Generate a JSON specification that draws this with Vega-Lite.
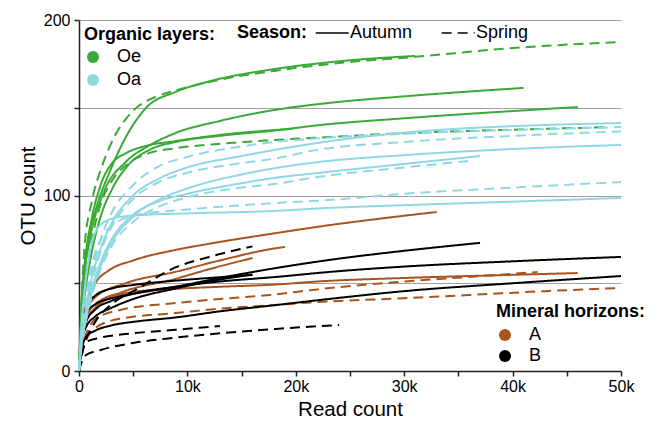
{
"$schema": "https://vega.github.io/schema/vega-lite/v6.json",
"width": 542, "height": 351,
"autosize": {"type": "none"},
"padding": {"left": 79, "top": 20, "right": 36, "bottom": 50},
"config": {"font": "Liberation Sans", "view": {"stroke": null},
  "legend": {"padding": 0, "labelFontSize": 18, "titleFontSize": 18, "titleFontWeight": "bold", "titleColor": "black", "labelColor": "black"}},
"data": {"values": [
{"c":"G1","l":"Oe","s":"Autumn","x":0,"y":0},{"c":"G1","l":"Oe","s":"Autumn","x":250,"y":40},{"c":"G1","l":"Oe","s":"Autumn","x":650,"y":68},{"c":"G1","l":"Oe","s":"Autumn","x":1600,"y":93},{"c":"G1","l":"Oe","s":"Autumn","x":2800,"y":113},{"c":"G1","l":"Oe","s":"Autumn","x":4300,"y":133},{"c":"G1","l":"Oe","s":"Autumn","x":6200,"y":150},{"c":"G1","l":"Oe","s":"Autumn","x":8900,"y":159},{"c":"G1","l":"Oe","s":"Autumn","x":12000,"y":165},{"c":"G1","l":"Oe","s":"Autumn","x":18000,"y":172},{"c":"G1","l":"Oe","s":"Autumn","x":24000,"y":176.5},{"c":"G1","l":"Oe","s":"Autumn","x":31000,"y":179.5},
{"c":"G1d","l":"Oe","s":"Spring","x":0,"y":0},{"c":"G1d","l":"Oe","s":"Spring","x":250,"y":42},{"c":"G1d","l":"Oe","s":"Spring","x":500,"y":70},{"c":"G1d","l":"Oe","s":"Spring","x":1200,"y":97},{"c":"G1d","l":"Oe","s":"Spring","x":2200,"y":118},{"c":"G1d","l":"Oe","s":"Spring","x":3400,"y":135},{"c":"G1d","l":"Oe","s":"Spring","x":4500,"y":145},{"c":"G1d","l":"Oe","s":"Spring","x":5500,"y":151},{"c":"G1d","l":"Oe","s":"Spring","x":7000,"y":156},{"c":"G1d","l":"Oe","s":"Spring","x":9000,"y":160},{"c":"G1d","l":"Oe","s":"Spring","x":13000,"y":166},{"c":"G1d","l":"Oe","s":"Spring","x":18000,"y":171},{"c":"G1d","l":"Oe","s":"Spring","x":24000,"y":175.5},{"c":"G1d","l":"Oe","s":"Spring","x":31000,"y":179},{"c":"G1d","l":"Oe","s":"Spring","x":40000,"y":184},{"c":"G1d","l":"Oe","s":"Spring","x":50000,"y":187.5},
{"c":"G2","l":"Oe","s":"Autumn","x":0,"y":0},{"c":"G2","l":"Oe","s":"Autumn","x":250,"y":35},{"c":"G2","l":"Oe","s":"Autumn","x":500,"y":55},{"c":"G2","l":"Oe","s":"Autumn","x":1000,"y":75},{"c":"G2","l":"Oe","s":"Autumn","x":2300,"y":102},{"c":"G2","l":"Oe","s":"Autumn","x":4300,"y":119},{"c":"G2","l":"Oe","s":"Autumn","x":6500,"y":128.5},{"c":"G2","l":"Oe","s":"Autumn","x":8900,"y":135.6},{"c":"G2","l":"Oe","s":"Autumn","x":13000,"y":142.5},{"c":"G2","l":"Oe","s":"Autumn","x":18000,"y":148.7},{"c":"G2","l":"Oe","s":"Autumn","x":23000,"y":152.7},{"c":"G2","l":"Oe","s":"Autumn","x":30000,"y":156.5},{"c":"G2","l":"Oe","s":"Autumn","x":41000,"y":161.3},
{"c":"G3","l":"Oe","s":"Autumn","x":0,"y":0},{"c":"G3","l":"Oe","s":"Autumn","x":250,"y":28},{"c":"G3","l":"Oe","s":"Autumn","x":500,"y":42},{"c":"G3","l":"Oe","s":"Autumn","x":1000,"y":62},{"c":"G3","l":"Oe","s":"Autumn","x":2000,"y":88},{"c":"G3","l":"Oe","s":"Autumn","x":3000,"y":103},{"c":"G3","l":"Oe","s":"Autumn","x":4500,"y":117},{"c":"G3","l":"Oe","s":"Autumn","x":6500,"y":126},{"c":"G3","l":"Oe","s":"Autumn","x":8900,"y":130.5},{"c":"G3","l":"Oe","s":"Autumn","x":13000,"y":134},{"c":"G3","l":"Oe","s":"Autumn","x":18000,"y":137},{"c":"G3","l":"Oe","s":"Autumn","x":22000,"y":140},{"c":"G3","l":"Oe","s":"Autumn","x":30000,"y":144},{"c":"G3","l":"Oe","s":"Autumn","x":41000,"y":148.5},{"c":"G3","l":"Oe","s":"Autumn","x":46000,"y":150.4},
{"c":"G5","l":"Oe","s":"Autumn","x":0,"y":0},{"c":"G5","l":"Oe","s":"Autumn","x":250,"y":35},{"c":"G5","l":"Oe","s":"Autumn","x":500,"y":55},{"c":"G5","l":"Oe","s":"Autumn","x":1000,"y":80},{"c":"G5","l":"Oe","s":"Autumn","x":2000,"y":106},{"c":"G5","l":"Oe","s":"Autumn","x":3000,"y":118},{"c":"G5","l":"Oe","s":"Autumn","x":4300,"y":124},{"c":"G5","l":"Oe","s":"Autumn","x":6000,"y":128},{"c":"G5","l":"Oe","s":"Autumn","x":8900,"y":131},{"c":"G5","l":"Oe","s":"Autumn","x":13000,"y":134.5},{"c":"G5","l":"Oe","s":"Autumn","x":19700,"y":138},
{"c":"G4","l":"Oe","s":"Spring","x":0,"y":0},{"c":"G4","l":"Oe","s":"Spring","x":250,"y":30},{"c":"G4","l":"Oe","s":"Spring","x":500,"y":45},{"c":"G4","l":"Oe","s":"Spring","x":1000,"y":68},{"c":"G4","l":"Oe","s":"Spring","x":2000,"y":95},{"c":"G4","l":"Oe","s":"Spring","x":3000,"y":108},{"c":"G4","l":"Oe","s":"Spring","x":4500,"y":118},{"c":"G4","l":"Oe","s":"Spring","x":6400,"y":124},{"c":"G4","l":"Oe","s":"Spring","x":9000,"y":127},{"c":"G4","l":"Oe","s":"Spring","x":13000,"y":129.5},{"c":"G4","l":"Oe","s":"Spring","x":18000,"y":131.6},{"c":"G4","l":"Oe","s":"Spring","x":23000,"y":133.3},{"c":"G4","l":"Oe","s":"Spring","x":30000,"y":135.5},{"c":"G4","l":"Oe","s":"Spring","x":40000,"y":137.5},{"c":"G4","l":"Oe","s":"Spring","x":49000,"y":139},
{"c":"B1","l":"Oa","s":"Autumn","x":0,"y":0},{"c":"B1","l":"Oa","s":"Autumn","x":250,"y":20},{"c":"B1","l":"Oa","s":"Autumn","x":500,"y":30},{"c":"B1","l":"Oa","s":"Autumn","x":1000,"y":48},{"c":"B1","l":"Oa","s":"Autumn","x":2000,"y":70},{"c":"B1","l":"Oa","s":"Autumn","x":3000,"y":84},{"c":"B1","l":"Oa","s":"Autumn","x":5000,"y":100},{"c":"B1","l":"Oa","s":"Autumn","x":7500,"y":110},{"c":"B1","l":"Oa","s":"Autumn","x":10000,"y":116},{"c":"B1","l":"Oa","s":"Autumn","x":15000,"y":122.5},{"c":"B1","l":"Oa","s":"Autumn","x":20000,"y":128},{"c":"B1","l":"Oa","s":"Autumn","x":25000,"y":132.5},{"c":"B1","l":"Oa","s":"Autumn","x":33000,"y":137.3},{"c":"B1","l":"Oa","s":"Autumn","x":40000,"y":139.5},{"c":"B1","l":"Oa","s":"Autumn","x":50000,"y":141.3},
{"c":"B2","l":"Oa","s":"Spring","x":0,"y":0},{"c":"B2","l":"Oa","s":"Spring","x":250,"y":20},{"c":"B2","l":"Oa","s":"Spring","x":500,"y":32},{"c":"B2","l":"Oa","s":"Spring","x":1000,"y":50},{"c":"B2","l":"Oa","s":"Spring","x":2000,"y":75},{"c":"B2","l":"Oa","s":"Spring","x":3000,"y":90},{"c":"B2","l":"Oa","s":"Spring","x":5000,"y":106},{"c":"B2","l":"Oa","s":"Spring","x":7300,"y":116.5},{"c":"B2","l":"Oa","s":"Spring","x":10000,"y":122},{"c":"B2","l":"Oa","s":"Spring","x":15000,"y":128},{"c":"B2","l":"Oa","s":"Spring","x":18000,"y":130.5},{"c":"B2","l":"Oa","s":"Spring","x":22000,"y":132.5},{"c":"B2","l":"Oa","s":"Spring","x":30000,"y":135.2},{"c":"B2","l":"Oa","s":"Spring","x":40000,"y":137.3},{"c":"B2","l":"Oa","s":"Spring","x":50000,"y":139},
{"c":"B2b","l":"Oa","s":"Spring","x":0,"y":0},{"c":"B2b","l":"Oa","s":"Spring","x":250,"y":18},{"c":"B2b","l":"Oa","s":"Spring","x":500,"y":28},{"c":"B2b","l":"Oa","s":"Spring","x":1000,"y":45},{"c":"B2b","l":"Oa","s":"Spring","x":2000,"y":68},{"c":"B2b","l":"Oa","s":"Spring","x":3000,"y":82},{"c":"B2b","l":"Oa","s":"Spring","x":5000,"y":98},{"c":"B2b","l":"Oa","s":"Spring","x":7500,"y":108},{"c":"B2b","l":"Oa","s":"Spring","x":10000,"y":113},{"c":"B2b","l":"Oa","s":"Spring","x":15000,"y":118.5},{"c":"B2b","l":"Oa","s":"Spring","x":18000,"y":121},{"c":"B2b","l":"Oa","s":"Spring","x":22000,"y":126},{"c":"B2b","l":"Oa","s":"Spring","x":30000,"y":130.5},{"c":"B2b","l":"Oa","s":"Spring","x":40000,"y":134},{"c":"B2b","l":"Oa","s":"Spring","x":50000,"y":136.5},
{"c":"B3","l":"Oa","s":"Autumn","x":0,"y":0},{"c":"B3","l":"Oa","s":"Autumn","x":250,"y":16},{"c":"B3","l":"Oa","s":"Autumn","x":500,"y":25},{"c":"B3","l":"Oa","s":"Autumn","x":1000,"y":40},{"c":"B3","l":"Oa","s":"Autumn","x":2000,"y":60},{"c":"B3","l":"Oa","s":"Autumn","x":3000,"y":73},{"c":"B3","l":"Oa","s":"Autumn","x":5000,"y":88},{"c":"B3","l":"Oa","s":"Autumn","x":7500,"y":98},{"c":"B3","l":"Oa","s":"Autumn","x":10000,"y":104},{"c":"B3","l":"Oa","s":"Autumn","x":15000,"y":112},{"c":"B3","l":"Oa","s":"Autumn","x":18000,"y":115.5},{"c":"B3","l":"Oa","s":"Autumn","x":22000,"y":119},{"c":"B3","l":"Oa","s":"Autumn","x":30000,"y":123},{"c":"B3","l":"Oa","s":"Autumn","x":40000,"y":126.5},{"c":"B3","l":"Oa","s":"Autumn","x":50000,"y":128.8},
{"c":"B4","l":"Oa","s":"Autumn","x":0,"y":0},{"c":"B4","l":"Oa","s":"Autumn","x":250,"y":17},{"c":"B4","l":"Oa","s":"Autumn","x":500,"y":26},{"c":"B4","l":"Oa","s":"Autumn","x":1000,"y":42},{"c":"B4","l":"Oa","s":"Autumn","x":2000,"y":62},{"c":"B4","l":"Oa","s":"Autumn","x":3000,"y":75},{"c":"B4","l":"Oa","s":"Autumn","x":5000,"y":89},{"c":"B4","l":"Oa","s":"Autumn","x":7500,"y":97},{"c":"B4","l":"Oa","s":"Autumn","x":10000,"y":101},{"c":"B4","l":"Oa","s":"Autumn","x":15000,"y":107},{"c":"B4","l":"Oa","s":"Autumn","x":18000,"y":110},{"c":"B4","l":"Oa","s":"Autumn","x":22000,"y":112.8},{"c":"B4","l":"Oa","s":"Autumn","x":30000,"y":118},{"c":"B4","l":"Oa","s":"Autumn","x":37000,"y":122.5},
{"c":"B5","l":"Oa","s":"Spring","x":0,"y":0},{"c":"B5","l":"Oa","s":"Spring","x":250,"y":15},{"c":"B5","l":"Oa","s":"Spring","x":500,"y":24},{"c":"B5","l":"Oa","s":"Spring","x":1000,"y":38},{"c":"B5","l":"Oa","s":"Spring","x":2000,"y":58},{"c":"B5","l":"Oa","s":"Spring","x":3000,"y":71},{"c":"B5","l":"Oa","s":"Spring","x":5000,"y":85},{"c":"B5","l":"Oa","s":"Spring","x":7500,"y":94},{"c":"B5","l":"Oa","s":"Spring","x":10000,"y":99},{"c":"B5","l":"Oa","s":"Spring","x":15000,"y":104.5},{"c":"B5","l":"Oa","s":"Spring","x":18000,"y":106.5},{"c":"B5","l":"Oa","s":"Spring","x":22000,"y":110.5},{"c":"B5","l":"Oa","s":"Spring","x":30000,"y":116},{"c":"B5","l":"Oa","s":"Spring","x":36000,"y":119.7},
{"c":"B6","l":"Oa","s":"Spring","x":0,"y":0},{"c":"B6","l":"Oa","s":"Spring","x":250,"y":22},{"c":"B6","l":"Oa","s":"Spring","x":500,"y":35},{"c":"B6","l":"Oa","s":"Spring","x":1000,"y":55},{"c":"B6","l":"Oa","s":"Spring","x":2000,"y":75},{"c":"B6","l":"Oa","s":"Spring","x":2700,"y":81},{"c":"B6","l":"Oa","s":"Spring","x":4000,"y":86.5},{"c":"B6","l":"Oa","s":"Spring","x":6000,"y":89.5},{"c":"B6","l":"Oa","s":"Spring","x":10000,"y":92},{"c":"B6","l":"Oa","s":"Spring","x":18000,"y":95.7},{"c":"B6","l":"Oa","s":"Spring","x":23000,"y":97.4},{"c":"B6","l":"Oa","s":"Spring","x":30000,"y":101},{"c":"B6","l":"Oa","s":"Spring","x":40000,"y":104.5},{"c":"B6","l":"Oa","s":"Spring","x":50000,"y":107.7},
{"c":"B7","l":"Oa","s":"Autumn","x":0,"y":0},{"c":"B7","l":"Oa","s":"Autumn","x":250,"y":28},{"c":"B7","l":"Oa","s":"Autumn","x":500,"y":45},{"c":"B7","l":"Oa","s":"Autumn","x":1000,"y":68},{"c":"B7","l":"Oa","s":"Autumn","x":1500,"y":79},{"c":"B7","l":"Oa","s":"Autumn","x":2500,"y":85.5},{"c":"B7","l":"Oa","s":"Autumn","x":4000,"y":88},{"c":"B7","l":"Oa","s":"Autumn","x":5800,"y":88.9},{"c":"B7","l":"Oa","s":"Autumn","x":10000,"y":89.8},{"c":"B7","l":"Oa","s":"Autumn","x":18000,"y":91.2},{"c":"B7","l":"Oa","s":"Autumn","x":23000,"y":92.9},{"c":"B7","l":"Oa","s":"Autumn","x":30000,"y":94.5},{"c":"B7","l":"Oa","s":"Autumn","x":40000,"y":96.5},{"c":"B7","l":"Oa","s":"Autumn","x":50000,"y":98.6},
{"c":"R1","l":"A","s":"Autumn","x":0,"y":0},{"c":"R1","l":"A","s":"Autumn","x":250,"y":25},{"c":"R1","l":"A","s":"Autumn","x":650,"y":38},{"c":"R1","l":"A","s":"Autumn","x":1500,"y":50},{"c":"R1","l":"A","s":"Autumn","x":2800,"y":57.5},{"c":"R1","l":"A","s":"Autumn","x":5000,"y":63},{"c":"R1","l":"A","s":"Autumn","x":8900,"y":69},{"c":"R1","l":"A","s":"Autumn","x":12000,"y":72.5},{"c":"R1","l":"A","s":"Autumn","x":18200,"y":78.6},{"c":"R1","l":"A","s":"Autumn","x":23200,"y":83.2},{"c":"R1","l":"A","s":"Autumn","x":28000,"y":87},{"c":"R1","l":"A","s":"Autumn","x":33000,"y":90.6},
{"c":"R2","l":"A","s":"Autumn","x":0,"y":0},{"c":"R2","l":"A","s":"Autumn","x":250,"y":22},{"c":"R2","l":"A","s":"Autumn","x":650,"y":33},{"c":"R2","l":"A","s":"Autumn","x":1500,"y":42},{"c":"R2","l":"A","s":"Autumn","x":4300,"y":50},{"c":"R2","l":"A","s":"Autumn","x":8900,"y":56.5},{"c":"R2","l":"A","s":"Autumn","x":13000,"y":63},{"c":"R2","l":"A","s":"Autumn","x":18200,"y":70},{"c":"R2","l":"A","s":"Autumn","x":19000,"y":70.7},
{"c":"R3","l":"A","s":"Autumn","x":0,"y":0},{"c":"R3","l":"A","s":"Autumn","x":250,"y":20},{"c":"R3","l":"A","s":"Autumn","x":650,"y":30},{"c":"R3","l":"A","s":"Autumn","x":1500,"y":38},{"c":"R3","l":"A","s":"Autumn","x":4000,"y":45},{"c":"R3","l":"A","s":"Autumn","x":8900,"y":52.5},{"c":"R3","l":"A","s":"Autumn","x":12000,"y":58},{"c":"R3","l":"A","s":"Autumn","x":16000,"y":64.4},
{"c":"R4","l":"A","s":"Autumn","x":0,"y":0},{"c":"R4","l":"A","s":"Autumn","x":250,"y":18},{"c":"R4","l":"A","s":"Autumn","x":650,"y":28},{"c":"R4","l":"A","s":"Autumn","x":1500,"y":36},{"c":"R4","l":"A","s":"Autumn","x":3000,"y":42},{"c":"R4","l":"A","s":"Autumn","x":5000,"y":45},{"c":"R4","l":"A","s":"Autumn","x":8900,"y":46.8},{"c":"R4","l":"A","s":"Autumn","x":13000,"y":48},{"c":"R4","l":"A","s":"Autumn","x":18200,"y":49.3},{"c":"R4","l":"A","s":"Autumn","x":22000,"y":51},{"c":"R4","l":"A","s":"Autumn","x":30000,"y":53},{"c":"R4","l":"A","s":"Autumn","x":40000,"y":54.8},{"c":"R4","l":"A","s":"Autumn","x":46000,"y":55.8},
{"c":"R5","l":"A","s":"Spring","x":0,"y":0},{"c":"R5","l":"A","s":"Spring","x":250,"y":10},{"c":"R5","l":"A","s":"Spring","x":500,"y":18},{"c":"R5","l":"A","s":"Spring","x":1600,"y":30},{"c":"R5","l":"A","s":"Spring","x":4000,"y":35},{"c":"R5","l":"A","s":"Spring","x":8900,"y":38.7},{"c":"R5","l":"A","s":"Spring","x":13000,"y":41},{"c":"R5","l":"A","s":"Spring","x":17600,"y":43.3},{"c":"R5","l":"A","s":"Spring","x":22000,"y":46.5},{"c":"R5","l":"A","s":"Spring","x":30000,"y":51},{"c":"R5","l":"A","s":"Spring","x":36000,"y":53.6},{"c":"R5","l":"A","s":"Spring","x":42300,"y":56.4},
{"c":"R6","l":"A","s":"Spring","x":0,"y":0},{"c":"R6","l":"A","s":"Spring","x":250,"y":9},{"c":"R6","l":"A","s":"Spring","x":500,"y":15},{"c":"R6","l":"A","s":"Spring","x":1600,"y":25},{"c":"R6","l":"A","s":"Spring","x":4000,"y":30},{"c":"R6","l":"A","s":"Spring","x":8900,"y":33},{"c":"R6","l":"A","s":"Spring","x":13000,"y":35.5},{"c":"R6","l":"A","s":"Spring","x":18000,"y":37.6},{"c":"R6","l":"A","s":"Spring","x":22000,"y":39.3},{"c":"R6","l":"A","s":"Spring","x":30000,"y":41.5},{"c":"R6","l":"A","s":"Spring","x":36000,"y":43.3},{"c":"R6","l":"A","s":"Spring","x":43000,"y":45.5},{"c":"R6","l":"A","s":"Spring","x":50000,"y":47.3},
{"c":"K1","l":"B","s":"Spring","x":0,"y":0},{"c":"K1","l":"B","s":"Spring","x":250,"y":9},{"c":"K1","l":"B","s":"Spring","x":500,"y":15},{"c":"K1","l":"B","s":"Spring","x":1600,"y":29},{"c":"K1","l":"B","s":"Spring","x":3000,"y":38},{"c":"K1","l":"B","s":"Spring","x":5300,"y":46.5},{"c":"K1","l":"B","s":"Spring","x":8900,"y":59},{"c":"K1","l":"B","s":"Spring","x":12000,"y":65},{"c":"K1","l":"B","s":"Spring","x":16000,"y":71},
{"c":"K2","l":"B","s":"Autumn","x":0,"y":0},{"c":"K2","l":"B","s":"Autumn","x":250,"y":20},{"c":"K2","l":"B","s":"Autumn","x":650,"y":33},{"c":"K2","l":"B","s":"Autumn","x":1500,"y":38},{"c":"K2","l":"B","s":"Autumn","x":3400,"y":42},{"c":"K2","l":"B","s":"Autumn","x":6000,"y":45},{"c":"K2","l":"B","s":"Autumn","x":8900,"y":48},{"c":"K2","l":"B","s":"Autumn","x":13000,"y":53},{"c":"K2","l":"B","s":"Autumn","x":18200,"y":58.7},{"c":"K2","l":"B","s":"Autumn","x":23000,"y":63.2},{"c":"K2","l":"B","s":"Autumn","x":30000,"y":68.5},{"c":"K2","l":"B","s":"Autumn","x":37000,"y":73},
{"c":"K3","l":"B","s":"Autumn","x":0,"y":0},{"c":"K3","l":"B","s":"Autumn","x":250,"y":18},{"c":"K3","l":"B","s":"Autumn","x":650,"y":28},{"c":"K3","l":"B","s":"Autumn","x":1500,"y":35},{"c":"K3","l":"B","s":"Autumn","x":3000,"y":40},{"c":"K3","l":"B","s":"Autumn","x":5000,"y":44},{"c":"K3","l":"B","s":"Autumn","x":8900,"y":48},{"c":"K3","l":"B","s":"Autumn","x":13000,"y":51},{"c":"K3","l":"B","s":"Autumn","x":18200,"y":53.6},{"c":"K3","l":"B","s":"Autumn","x":23000,"y":56.4},{"c":"K3","l":"B","s":"Autumn","x":30000,"y":59.5},{"c":"K3","l":"B","s":"Autumn","x":40000,"y":62.5},{"c":"K3","l":"B","s":"Autumn","x":50000,"y":65},
{"c":"K7","l":"B","s":"Autumn","x":0,"y":0},{"c":"K7","l":"B","s":"Autumn","x":250,"y":22},{"c":"K7","l":"B","s":"Autumn","x":650,"y":35},{"c":"K7","l":"B","s":"Autumn","x":1500,"y":43},{"c":"K7","l":"B","s":"Autumn","x":3000,"y":47},{"c":"K7","l":"B","s":"Autumn","x":5000,"y":49},{"c":"K7","l":"B","s":"Autumn","x":8900,"y":51.5},{"c":"K7","l":"B","s":"Autumn","x":12000,"y":53},{"c":"K7","l":"B","s":"Autumn","x":16000,"y":54.7},
{"c":"K8","l":"B","s":"Autumn","x":0,"y":0},{"c":"K8","l":"B","s":"Autumn","x":250,"y":16},{"c":"K8","l":"B","s":"Autumn","x":650,"y":25},{"c":"K8","l":"B","s":"Autumn","x":1500,"y":31},{"c":"K8","l":"B","s":"Autumn","x":3000,"y":36},{"c":"K8","l":"B","s":"Autumn","x":5000,"y":41},{"c":"K8","l":"B","s":"Autumn","x":8900,"y":47},{"c":"K8","l":"B","s":"Autumn","x":12000,"y":51},{"c":"K8","l":"B","s":"Autumn","x":16000,"y":55},
{"c":"K4","l":"B","s":"Autumn","x":0,"y":0},{"c":"K4","l":"B","s":"Autumn","x":250,"y":12},{"c":"K4","l":"B","s":"Autumn","x":650,"y":19.4},{"c":"K4","l":"B","s":"Autumn","x":1500,"y":23},{"c":"K4","l":"B","s":"Autumn","x":3000,"y":26},{"c":"K4","l":"B","s":"Autumn","x":5000,"y":28},{"c":"K4","l":"B","s":"Autumn","x":8900,"y":30.5},{"c":"K4","l":"B","s":"Autumn","x":13000,"y":34},{"c":"K4","l":"B","s":"Autumn","x":18200,"y":37.6},{"c":"K4","l":"B","s":"Autumn","x":23000,"y":41},{"c":"K4","l":"B","s":"Autumn","x":30000,"y":45.5},{"c":"K4","l":"B","s":"Autumn","x":40000,"y":50},{"c":"K4","l":"B","s":"Autumn","x":50000,"y":54.1},
{"c":"K5","l":"B","s":"Spring","x":0,"y":0},{"c":"K5","l":"B","s":"Spring","x":250,"y":10},{"c":"K5","l":"B","s":"Spring","x":650,"y":16.5},{"c":"K5","l":"B","s":"Spring","x":2000,"y":19},{"c":"K5","l":"B","s":"Spring","x":5000,"y":21.5},{"c":"K5","l":"B","s":"Spring","x":8900,"y":23.5},{"c":"K5","l":"B","s":"Spring","x":13000,"y":25.6},
{"c":"K6","l":"B","s":"Spring","x":0,"y":0},{"c":"K6","l":"B","s":"Spring","x":250,"y":5},{"c":"K6","l":"B","s":"Spring","x":650,"y":9.1},{"c":"K6","l":"B","s":"Spring","x":2000,"y":12},{"c":"K6","l":"B","s":"Spring","x":5000,"y":16},{"c":"K6","l":"B","s":"Spring","x":8900,"y":19},{"c":"K6","l":"B","s":"Spring","x":13000,"y":21.5},{"c":"K6","l":"B","s":"Spring","x":18200,"y":24},{"c":"K6","l":"B","s":"Spring","x":24000,"y":26.2}
]},
"encoding": {
  "x": {"field": "x", "type": "quantitative", "scale": {"domain": [0, 50000], "nice": false},
    "axis": {"title": "Read count", "values": [0,5000,10000,15000,20000,25000,30000,35000,40000,45000,50000],
      "labelExpr": "datum.value % 10000 == 0 ? (datum.value == 0 ? '0' : (datum.value / 1000) + 'k') : ''",
      "grid": false, "tickSize": 5, "labelFontSize": 16, "titleFontSize": 20.5, "titleFontWeight": "normal",
      "labelColor": "black", "titleColor": "black", "domainColor": "#222", "tickColor": "#222",
      "domainWidth": 1.5, "tickWidth": 1.5, "labelPadding": 2, "titlePadding": 5, "labelFlush": false}},
  "y": {"field": "y", "type": "quantitative", "scale": {"domain": [0, 200], "nice": false},
    "axis": {"title": "OTU count", "values": [0,50,100,150,200],
      "labelExpr": "datum.value % 100 == 0 ? datum.label : ''",
      "grid": true, "gridColor": "#a0a0a0", "gridWidth": 1, "tickSize": 5, "labelFontSize": 16, "titleFontSize": 20.5, "titleFontWeight": "normal",
      "labelColor": "black", "titleColor": "black", "domainColor": "#222", "tickColor": "#222",
      "domainWidth": 1.5, "tickWidth": 1.5, "labelPadding": 4, "titlePadding": 5, "labelFlush": false}}
},
"layer": [
  {"transform": [{"filter": "datum.l == 'A' || datum.l == 'B'"}],
   "mark": {"type": "line", "interpolate": "monotone", "strokeWidth": 2, "strokeCap": "butt"},
   "encoding": {
     "detail": {"field": "c"},
     "stroke": {"field": "l", "type": "nominal", "scale": {"domain": ["A", "B"], "range": ["#a9541f", "#000000"]}, "legend": null},
     "strokeDash": {"field": "s", "type": "nominal", "scale": {"domain": ["Autumn", "Spring"], "range": [[1, 0], [10, 6]]},
       "legend": {"title": "Season:", "orient": "none", "legendX": 158, "legendY": 4, "direction": "horizontal", "titleOrient": "left", "symbolType": "M-1,0H9", "symbolSize": 43.56, "symbolStrokeColor": "black", "symbolStrokeWidth": 1.5, "columnPadding": 23, "labelOffset": 22, "titlePadding": 2, "labelFontSize": 18, "titleFontSize": 18}}
   }},
  {"transform": [{"filter": "datum.l == 'Oe' || datum.l == 'Oa'"}],
   "mark": {"type": "line", "interpolate": "monotone", "strokeWidth": 2, "strokeCap": "butt"},
   "encoding": {
     "detail": {"field": "c"},
     "stroke": {"field": "l", "type": "nominal", "scale": {"domain": ["Oe", "Oa"], "range": ["#3aa935", "#8fd8e3"]}, "legend": null},
     "strokeDash": {"field": "s", "type": "nominal", "scale": {"domain": ["Autumn", "Spring"], "range": [[1, 0], [10, 6]]},
       "legend": {"title": "Season:", "orient": "none", "legendX": 158, "legendY": 4, "direction": "horizontal", "titleOrient": "left", "symbolType": "M-1,0H9", "symbolSize": 43.56, "symbolStrokeColor": "black", "symbolStrokeWidth": 1.5, "columnPadding": 23, "labelOffset": 22, "titlePadding": 2, "labelFontSize": 18, "titleFontSize": 18}}
   }},
  {"transform": [{"filter": "(datum.l == 'A' || datum.l == 'B') && datum.x < 0"}],
   "mark": {"type": "point", "filled": true, "shape": "circle"},
   "encoding": {
     "fill": {"field": "l", "type": "nominal", "scale": {"domain": ["A", "B"], "range": ["#a9541f", "#000000"]},
       "legend": {"title": "Mineral horizons:", "orient": "none", "legendX": 417, "legendY": 283, "symbolType": "circle", "symbolSize": 144, "symbolOpacity": 1, "symbolStrokeWidth": 0, "rowPadding": 3, "labelOffset": 15, "titlePadding": 5, "labelFontSize": 18, "titleFontSize": 18}}
   }},
  {"transform": [{"filter": "(datum.l == 'Oe' || datum.l == 'Oa') && datum.x < 0"}],
   "mark": {"type": "point", "filled": true, "shape": "circle"},
   "encoding": {
     "fill": {"field": "l", "type": "nominal", "scale": {"domain": ["Oe", "Oa"], "range": ["#3aa935", "#8fd8e3"]},
       "legend": {"title": "Organic layers:", "orient": "none", "legendX": 5, "legendY": 6, "symbolType": "circle", "symbolSize": 144, "symbolOpacity": 1, "symbolStrokeWidth": 0, "rowPadding": 5, "labelOffset": 15, "titlePadding": 4, "labelFontSize": 18, "titleFontSize": 18}}
   }}
],
"resolve": {"scale": {"stroke": "independent", "fill": "independent"}}
}
